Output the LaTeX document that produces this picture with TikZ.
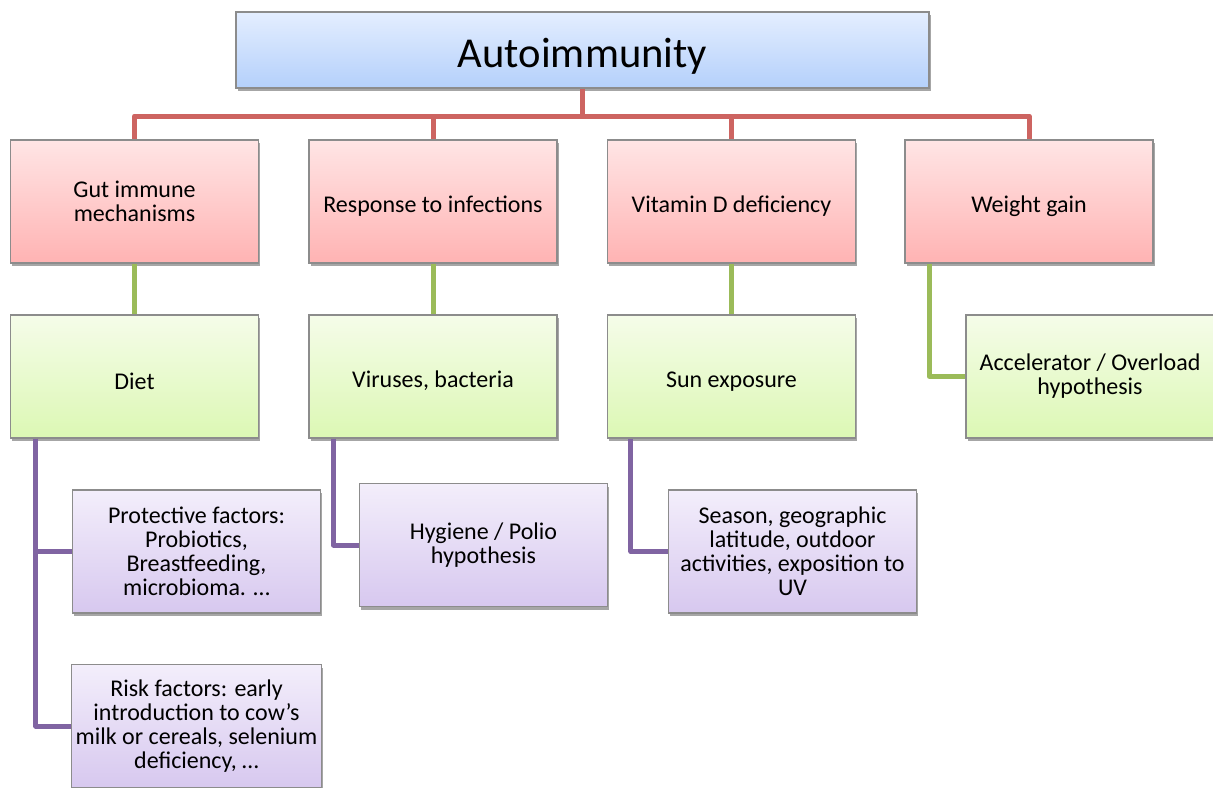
\documentclass[tikz,border=0pt]{standalone}
\usepackage{fontspec}
\setmainfont{Carlito}
\usetikzlibrary{shadows}

\definecolor{boxline}{HTML}{8C8C8C}
\definecolor{redline}{HTML}{CD6461}
\definecolor{greenline}{HTML}{9BBB59}
\definecolor{purpleline}{HTML}{8064A2}

\tikzset{
  box/.style={draw=boxline,line width=0.6pt,minimum width=124pt,minimum height=61.5pt,
    align=center,inner sep=2pt,font=\fontsize{12}{12}\selectfont,
    execute at begin node={\rule{0pt}{13pt}},
    drop shadow={shadow xshift=0.8pt,shadow yshift=-1.5pt,fill=black,opacity=0.35}},
  topbox/.style={box,minimum width=346.5pt,minimum height=38pt,
    top color={rgb,255:red,228;green,238;blue,255},bottom color={rgb,255:red,180;green,208;blue,251},
    font=\fontsize{21.3}{25}\selectfont,execute at begin node={\rule{0pt}{21pt}}},
  causebox/.style={box,top color={rgb,255:red,255;green,229;blue,229},bottom color={rgb,255:red,255;green,179;blue,179}},
  factorbox/.style={box,top color={rgb,255:red,245;green,252;blue,233},bottom color={rgb,255:red,220;green,248;blue,180}},
  detailbox/.style={box,top color={rgb,255:red,243;green,238;blue,251},bottom color={rgb,255:red,215;green,200;blue,239}},
  link/.style={line width=2.5pt,line join=round}
}

\begin{document}
\begin{tikzpicture}[x=0.5pt,y=-0.5pt]
\useasboundingbox (0,0) rectangle (1213,787);

\node[topbox] (auto) at (582.5,50) {Autoimmunity};

\node[causebox] (gut) at (134.5,201.5) {Gut immune\\mechanisms};
\node[causebox] (inf) at (433,201.5) {Response to infections};
\node[causebox] (vitd) at (731.5,201.5) {Vitamin D deficiency};
\node[causebox] (weight) at (1029,201.5) {Weight gain};

\node[factorbox] (diet) at (134.5,376.5) {Diet};
\node[factorbox] (virus) at (433,376.5) {Viruses, bacteria};
\node[factorbox] (sun) at (731.5,376.5) {Sun exposure};
\node[factorbox] (accel) at (1090,376.5) {Accelerator / Overload\\hypothesis};

\node[detailbox] (protect) at (196.5,551.5) {Protective factors:\\Probiotics,\\Breastfeeding,\\microbioma. \dots};
\node[detailbox] (risk) at (196.5,726) {Risk factors: early\\introduction to cow’s\\milk or cereals, selenium\\deficiency, \dots};
\node[detailbox] (hyg) at (483.5,545) {Hygiene / Polio\\hypothesis};
\node[detailbox] (season) at (792.5,551.5) {Season, geographic\\latitude, outdoor\\activities, exposition to\\UV};

\coordinate (bus) at (582.5,116);
\draw[link,redline] (auto.south) -- (bus);
\foreach \n in {gut,inf,vitd,weight}
  \draw[link,redline] (bus) -| (\n.north);

\draw[link,greenline] (gut.south) -- (diet.north);
\draw[link,greenline] (inf.south) -- (virus.north);
\draw[link,greenline] (vitd.south) -- (sun.north);
\draw[link,greenline] ([xshift=12.5pt]weight.south west) |- (accel.west);

\draw[link,purpleline] ([xshift=13pt]diet.south west) |- (protect.west);
\draw[link,purpleline] ([xshift=13pt]diet.south west) |- (risk.west);
\draw[link,purpleline] ([xshift=12.5pt]virus.south west) |- (hyg.west);
\draw[link,purpleline] ([xshift=12pt]sun.south west) |- (season.west);
\end{tikzpicture}
\end{document}
